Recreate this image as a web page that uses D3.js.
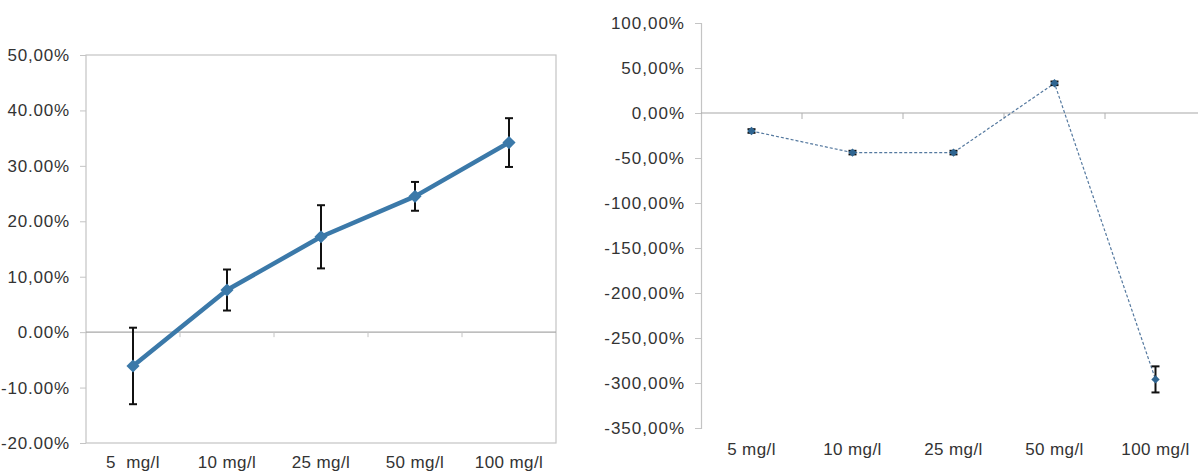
<!DOCTYPE html>
<html>
<head>
<meta charset="utf-8">
<script src="https://cdn.jsdelivr.net/npm/d3@7"></script>
<style>
  body { margin: 0; background: #fff; }
  text { font-family: "Liberation Sans", Arial, sans-serif; fill: #333; }
</style>
</head>
<body>
<div id="main"></div>
<script>
// data
var categories = ["5 mg/l", "10 mg/l", "25 mg/l", "50 mg/l", "100 mg/l"];
var leftCatLabels = ["5  mg/l", "10 mg/l", "25 mg/l", "50 mg/l", "100 mg/l"];
var leftValues = [-6.1, 7.6, 17.2, 24.5, 34.2];
var leftErrors = [6.9, 3.7, 5.7, 2.6, 4.4];
var leftTicks = [50, 40, 30, 20, 10, 0, -10, -20];
var leftTickLabels = ["50,00%", "40.00%", "30.00%", "20.00%", "10,00%", "0.00%", "-10.00%", "-20.00%"];

var rightValues = [-20, -44, -44, 33, -296];
var rightErrors = [2, 2, 2, 2, 14.5];
var rightTicks = [100, 50, 0, -50, -100, -150, -200, -250, -300, -350];
var rightTickLabels = ["100,00%", "50,00%", "0,00%", "-50,00%", "-100,00%", "-150,00%", "-200,00%", "-250,00%", "-300,00%", "-350,00%"];

var W = 1198, H = 473;
var svg = d3.select("#main").append("svg")
  .attr("width", W)
  .attr("height", H);

// ---------- left chart ----------
var L = { left: 86, right: 556, top: 55, bottom: 443 };

var xL = d3.scaleBand().domain(categories).range([L.left, L.right]);
var yL = d3.scaleLinear().domain([-20, 50]).range([L.bottom, L.top]);

// frame
svg.append("rect")
  .attr("x", L.left).attr("y", L.top)
  .attr("width", L.right - L.left).attr("height", L.bottom - L.top)
  .attr("fill", "none").attr("stroke", "#c4c4c4").attr("stroke-width", 1.2);

var yAxisL = svg.append("g")
  .attr("transform", "translate(" + L.left + ",0)")
  .call(d3.axisLeft(yL).tickValues(leftTicks).tickSize(6).tickPadding(10)
    .tickFormat(function(d, i) { return leftTickLabels[i]; }));
yAxisL.select(".domain").remove();
yAxisL.selectAll("line").attr("stroke", "#c4c4c4");
yAxisL.selectAll("text").style("font-size", "17px").attr("fill", "#333").attr("letter-spacing", "0.8px");

// zero line with category ticks
svg.append("line")
  .attr("x1", L.left).attr("x2", L.right)
  .attr("y1", yL(0)).attr("y2", yL(0))
  .attr("stroke", "#a8a8a8").attr("stroke-width", 1.2);
svg.append("g").selectAll("line")
  .data(categories.slice(1))
  .enter().append("line")
  .attr("x1", function(d) { return xL(d); })
  .attr("x2", function(d) { return xL(d); })
  .attr("y1", yL(0)).attr("y2", yL(0) + 5)
  .attr("stroke", "#c4c4c4");

// category labels
svg.append("g").selectAll("text")
  .data(categories)
  .enter().append("text")
  .attr("x", function(d) { return xL(d) + xL.bandwidth() / 2; })
  .attr("y", 468)
  .attr("text-anchor", "middle")
  .style("font-size", "17px")
  .style("white-space", "pre")
  .attr("letter-spacing", "0.4px")
  .text(function(d, i) { return leftCatLabels[i]; });

var cxL = function(i) { return xL(categories[i]) + xL.bandwidth() / 2; };

// error bars
var errL = svg.append("g").attr("stroke", "#111").attr("stroke-width", 2);
leftValues.forEach(function(v, i) {
  var x = cxL(i), e = leftErrors[i];
  errL.append("line").attr("x1", x).attr("x2", x).attr("y1", yL(v + e)).attr("y2", yL(v - e));
  errL.append("line").attr("x1", x - 4).attr("x2", x + 4).attr("y1", yL(v + e)).attr("y2", yL(v + e));
  errL.append("line").attr("x1", x - 4).attr("x2", x + 4).attr("y1", yL(v - e)).attr("y2", yL(v - e));
});

// line
svg.append("path")
  .datum(leftValues)
  .attr("fill", "none")
  .attr("stroke", "#3b79a9")
  .attr("stroke-width", 4.5)
  .attr("stroke-linejoin", "round")
  .attr("d", d3.line().x(function(d, i) { return cxL(i); }).y(function(d) { return yL(d); }));

svg.append("g").selectAll("path")
  .data(leftValues)
  .enter().append("path")
  .attr("transform", function(d, i) { return "translate(" + cxL(i) + "," + yL(d) + ")"; })
  .attr("d", d3.symbol().type(d3.symbolDiamond2).size(110))
  .attr("fill", "#3b79a9");

// ---------- right chart ----------
var R = { left: 701, right: 1206, top: 23, bottom: 428 };

var xR = d3.scaleBand().domain(categories).range([R.left, R.right]);
var yR = d3.scaleLinear().domain([-350, 100]).range([R.bottom, R.top]);

var yAxisR = svg.append("g")
  .attr("transform", "translate(" + R.left + ",0)")
  .call(d3.axisLeft(yR).tickValues(rightTicks).tickSize(6).tickPadding(10)
    .tickFormat(function(d, i) { return rightTickLabels[i]; }));
yAxisR.select(".domain").attr("stroke", "#c4c4c4").attr("stroke-width", 1.2);
yAxisR.selectAll("line").attr("stroke", "#c4c4c4");
yAxisR.selectAll("text").style("font-size", "17px").attr("fill", "#333").attr("letter-spacing", "1px");

svg.append("line")
  .attr("x1", R.left).attr("x2", W)
  .attr("y1", yR(0)).attr("y2", yR(0))
  .attr("stroke", "#a8a8a8").attr("stroke-width", 1.2);
svg.append("g").selectAll("line")
  .data(categories.slice(1))
  .enter().append("line")
  .attr("x1", function(d) { return xR(d); })
  .attr("x2", function(d) { return xR(d); })
  .attr("y1", yR(0)).attr("y2", yR(0) + 6)
  .attr("stroke", "#b0b0b0");

svg.append("g").selectAll("text")
  .data(categories)
  .enter().append("text")
  .attr("x", function(d) { return xR(d) + xR.bandwidth() / 2; })
  .attr("y", 455)
  .attr("text-anchor", "middle")
  .style("font-size", "17px")
  .attr("letter-spacing", "0.4px")
  .text(function(d) { return d; });

var cxR = function(i) { return xR(categories[i]) + xR.bandwidth() / 2; };

svg.append("path")
  .datum(rightValues)
  .attr("fill", "none")
  .attr("stroke", "#55799f")
  .attr("stroke-width", 1.2)
  .attr("stroke-dasharray", "3,2")
  .attr("d", d3.line().x(function(d, i) { return cxR(i); }).y(function(d) { return yR(d); }));

var errR = svg.append("g").attr("stroke", "#111").attr("stroke-width", 2);
rightValues.forEach(function(v, i) {
  var x = cxR(i), e = rightErrors[i];
  errR.append("line").attr("x1", x).attr("x2", x).attr("y1", yR(v + e)).attr("y2", yR(v - e));
  errR.append("line").attr("x1", x - 4).attr("x2", x + 4).attr("y1", yR(v + e)).attr("y2", yR(v + e));
  errR.append("line").attr("x1", x - 4).attr("x2", x + 4).attr("y1", yR(v - e)).attr("y2", yR(v - e));
});

svg.append("g").selectAll("path")
  .data(rightValues)
  .enter().append("path")
  .attr("transform", function(d, i) { return "translate(" + cxR(i) + "," + yR(d) + ")"; })
  .attr("d", d3.symbol().type(d3.symbolDiamond2).size(45))
  .attr("fill", "#2f6591");
</script>
</body>
</html>
